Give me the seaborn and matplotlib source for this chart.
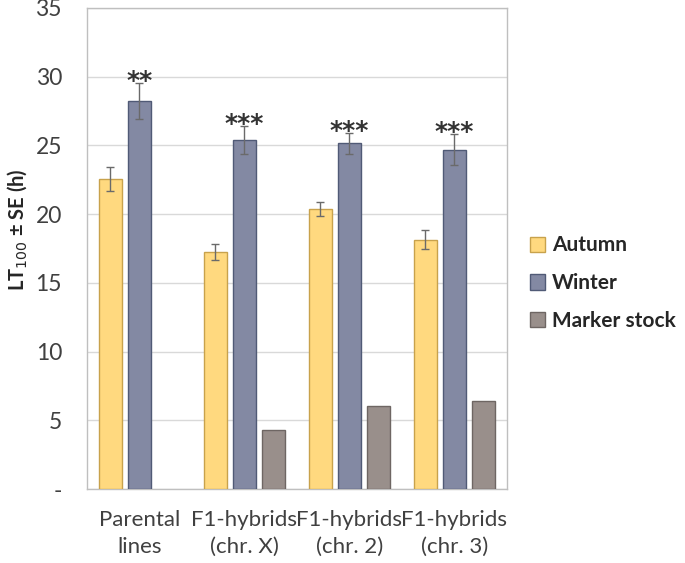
import numpy as np
import pandas as pd
import matplotlib
matplotlib.use("Agg")
import matplotlib.pyplot as plt
import seaborn as sns
from matplotlib.patches import Patch

groups = ["Parental\nlines", "F1-hybrids\n(chr. X)", "F1-hybrids\n(chr. 2)", "F1-hybrids\n(chr. 3)"]
seasons = ["Autumn", "Winter", "Marker stock"]
autumn = [22.55, 17.25, 20.4, 18.15]
autumn_se = [0.9, 0.55, 0.5, 0.7]
winter = [28.25, 25.4, 25.15, 24.7]
winter_se = [1.3, 1.0, 0.75, 1.15]
marker = [np.nan, 4.3, 6.05, 6.45]
stars = ["**", "***", "***", "***"]

colors = {"Autumn": "#FFD97F", "Winter": "#8389A3", "Marker stock": "#998F8B"}
edges = {"Autumn": "#C8A24C", "Winter": "#505A76", "Marker stock": "#6E6663"}

rows = []
for i, g in enumerate(groups):
    rows.append((g, "Autumn", autumn[i], autumn_se[i]))
    rows.append((g, "Winter", winter[i], winter_se[i]))
    rows.append((g, "Marker stock", marker[i], np.nan))
df = pd.DataFrame(rows, columns=["group", "season", "value", "se"])

sns.set_style("white")
plt.rcParams["font.family"] = ["Lato", "DejaVu Sans"]

fig = plt.figure(figsize=(6.85, 5.63), dpi=100)
ax = fig.add_axes([0.127, 0.131, 0.613, 0.855])

sns.barplot(data=df, x="group", y="value", hue="season", order=groups,
            hue_order=seasons, palette=colors, errorbar=None, saturation=1,
            width=0.83, gap=0.19, ax=ax, legend=False, zorder=3)

for cont, s in zip(ax.containers, seasons):
    for p in cont:
        p.set_edgecolor(edges[s])
        p.set_linewidth(1.0)

# error bars
xs_a = [p.get_x() + p.get_width() / 2 for p in ax.containers[0]]
xs_w = [p.get_x() + p.get_width() / 2 for p in ax.containers[1]]
ax.errorbar(xs_a, autumn, yerr=autumn_se, fmt="none", ecolor="#6A6A6A",
            elinewidth=1.0, capsize=3, capthick=1.0, zorder=4)
ax.errorbar(xs_w, winter, yerr=winter_se, fmt="none", ecolor="#6A6A6A",
            elinewidth=1.0, capsize=3, capthick=1.0, zorder=4)
for x, v, e, s in zip(xs_w, winter, winter_se, stars):
    ax.annotate(s, (x, v + e), xytext=(0, -3.5), textcoords="offset points",
                ha="center", va="baseline", fontsize=18, fontweight="bold",
                color="#333333", family="DejaVu Sans")

ax.set_ylim(0, 35)
ax.set_xlim(-0.5, 3.5)
ax.set_yticks(range(0, 36, 5))
ax.set_yticklabels(["-"] + [str(v) for v in range(5, 36, 5)])
ax.yaxis.grid(True, color="#D9D9D9", linewidth=1.0, zorder=0)
ax.set_axisbelow(True)
for sp in ax.spines.values():
    sp.set_visible(True)
    sp.set_color("#BFBFBF")
    sp.set_linewidth(1.0)
ax.tick_params(axis="y", labelsize=16.5, colors="#404040", length=0, pad=18)
ax.tick_params(axis="x", labelsize=16, colors="#404040", length=0, pad=15)
for lbl in ax.get_xticklabels():
    lbl.set_linespacing(1.45)
ax.set_xlabel("")
ax.set_ylabel("LT$_{100}$ ± SE (h)", fontsize=14.5, fontweight="bold",
              color="#262626")
ax.yaxis.set_label_coords(-0.138, 0.54)

handles = [Patch(facecolor=colors[s], edgecolor=edges[s], label=s) for s in seasons]
leg = fig.legend(handles=handles, loc="center left", bbox_to_anchor=(0.746, 0.497),
                 frameon=False, prop={"size": 15, "weight": "bold"},
                 handlelength=0.75, handleheight=0.75, handletextpad=0.3,
                 labelspacing=0.85, labelcolor="#262626")

fig.savefig("out.png", dpi=100)
